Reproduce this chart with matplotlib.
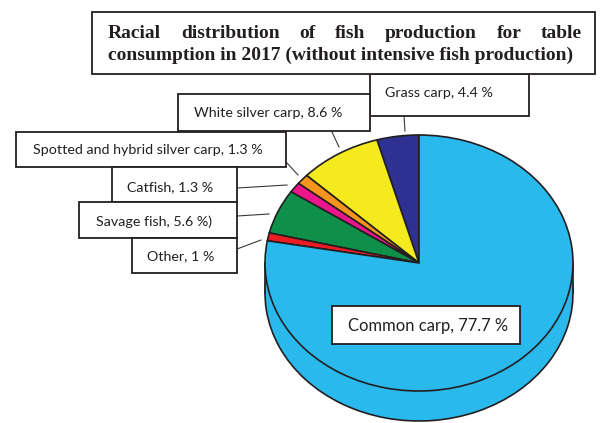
import matplotlib
matplotlib.use("Agg")
import matplotlib.pyplot as plt
from matplotlib.patches import Rectangle

# data, counter-clockwise from the top of the pie
species = ["Grass carp", "White silver carp", "Spotted and hybrid silver carp",
           "Catfish", "Savage fish", "Other", "Common carp"]
shares = [4.4, 8.6, 1.3, 1.3, 5.6, 1.0, 77.7]
labels = ["Grass carp, 4.4 %", "White silver carp, 8.6 %",
          "Spotted and hybrid silver carp, 1.3 %", "Catfish, 1.3 %",
          "Savage fish, 5.6 %)", "Other, 1 %", "Common carp, 77.7 %"]
colors = ["#2E3192", "#F4EA1E", "#F7941D", "#EC168C", "#0E904A", "#ED1C24", "#29B9EC"]
title_lines = ["Racial distribution of fish production for table",
               "consumption in 2017 (without intensive fish production)"]

W, H = 601, 423
fig = plt.figure(figsize=(W / 100, H / 100), dpi=100)

# pie body: top face is an ellipse of 154 x 128 px, side is 30 px deep
depth = 30 / 128
cx0, cx1 = 265, 573
top_y, bot_y = 135, 263 + 128 * (1 + depth)
pax = fig.add_axes([cx0 / W, 1 - bot_y / H, (cx1 - cx0) / W, (bot_y - top_y) / H])
edge = dict(edgecolor="#231F20", linewidth=1.2)

side, _ = pax.pie(shares, colors=colors, startangle=90, counterclock=True,
                  center=(0, -depth), wedgeprops=edge)
for w in side:
    w.set_zorder(1)
    w.set_clip_on(False)
pax.add_patch(Rectangle((-1, -depth), 2, depth, facecolor=colors[-1],
                        edgecolor="none", zorder=2))
for sx in (-1, 1):
    pax.plot([sx, sx], [0, -depth], color="#231F20", lw=1.2, zorder=2,
             clip_on=False)
top, _ = pax.pie(shares, colors=colors, startangle=90, counterclock=True,
                 wedgeprops=edge)
for w in top:
    w.set_zorder(3)
    w.set_clip_on(False)
pax.set_aspect("auto")
pax.set_xlim(-1, 1)
pax.set_ylim(-1 - depth, 1)
pax.axis("off")

# overlay in pixel coordinates for boxes and leader lines
ax = fig.add_axes([0, 0, 1, 1])
ax.set_xlim(0, W)
ax.set_ylim(H, 0)
ax.axis("off")
ax.patch.set_alpha(0)

box_kw = dict(facecolor="white", edgecolor="#231F20", linewidth=1.3)
label_font = dict(family="Lato", color="#231F20", ha="center", va="center")

# (x0, y0, x1, y1) of each label box and the text centre
boxes = [(370, 74, 529, 116), (178, 94, 370, 131), (16, 132, 286, 167),
         (112, 167, 237, 202), (79, 202, 237, 238), (132, 238, 237, 273),
         (332, 306, 520, 344)]
text_xy = [(439, 93), (268, 113), (148, 150), (170, 187), (154, 222),
           (181, 256), (428, 326)]
text_size = [10.3, 10.3, 10.3, 10.3, 10.3, 10.3, 11.9]
leaders = [((404, 116), (405, 131)), ((332, 132), (339, 147)),
           ((287, 163), (298, 175)), ((237, 188), (287, 185)),
           ((237, 216), (269, 214)), ((237, 249), (261, 240)), None]

for (x0, y0, x1, y1), (tx, ty), lab, fs, ld in zip(boxes, text_xy, labels,
                                                   text_size, leaders):
    ax.add_patch(Rectangle((x0, y0), x1 - x0, y1 - y0, zorder=5, **box_kw))
    ax.text(tx, ty, lab, fontsize=fs, zorder=6, **label_font)
    if ld is not None:
        ax.plot([ld[0][0], ld[1][0]], [ld[0][1], ld[1][1]],
                color="#3A3A3A", lw=0.8, zorder=4)

# title box with a justified first line
ax.add_patch(Rectangle((92, 12), 595 - 92, 74 - 12, zorder=5, **box_kw))
title_font = dict(family="Liberation Serif", fontweight="bold", fontsize=14,
                  color="#231F20", va="center", zorder=6)
fig.canvas.draw()
renderer = fig.canvas.get_renderer()
words = title_lines[0].split()
widths = []
for wd in words:
    t = ax.text(0, 0, wd, **title_font)
    widths.append(t.get_window_extent(renderer).width)
    t.remove()
left, right = 108, 582
gap = (right - left - sum(widths)) / (len(words) - 1)
x = left
for wd, wdw in zip(words, widths):
    ax.text(x, 33, wd, ha="left", **title_font)
    x += wdw + gap
ax.text(left, 55, title_lines[1], ha="left", **title_font)

fig.savefig("out.png", dpi=100)
